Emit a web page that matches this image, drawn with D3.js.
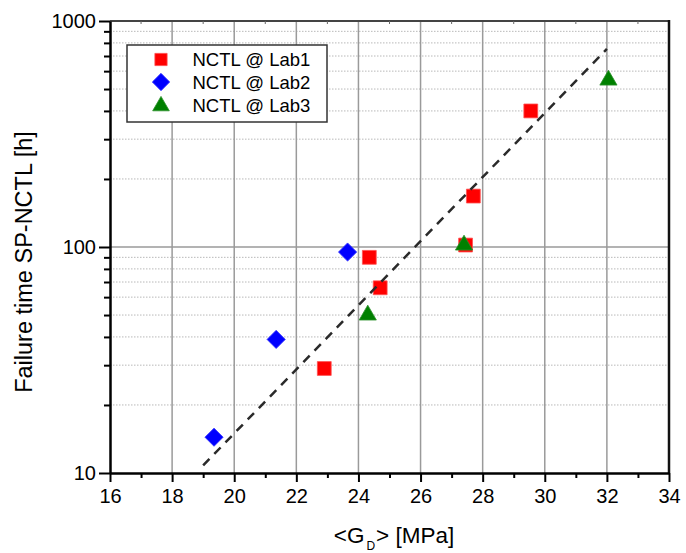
<!DOCTYPE html>
<html>
<head>
<meta charset="utf-8">
<script src="https://cdn.jsdelivr.net/npm/d3@7"></script>
<style>
  html, body { margin: 0; padding: 0; background: #fff; }
  svg { display: block; font-family: "Liberation Sans", Arial, sans-serif; }
</style>
</head>
<body>
<svg id="chart" width="686" height="553"></svg>
<script>
// ---- data ----
const seriesNames = ["NCTL @ Lab1", "NCTL @ Lab2", "NCTL @ Lab3"];
const lab1X = [22.9, 24.35, 24.7, 27.45, 27.7, 29.55];
const lab1Y = [29, 90, 66, 102, 168, 400];
const lab2X = [19.35, 21.35, 23.65];
const lab2Y = [14.4, 39, 95];
const lab3X = [24.3, 27.4, 32.05];
const lab3Y = [50.5, 103, 553];
const fitX = [19.0, 32.0];
const fitY = [10.8, 752];
const xTicks = [16, 18, 20, 22, 24, 26, 28, 30, 32, 34];
const xMinorTicks = [17, 19, 21, 23, 25, 27, 29, 31, 33];
const yTicks = [10, 100, 1000];
const yMinorTicks = [20, 30, 40, 50, 60, 70, 80, 90, 200, 300, 400, 500, 600, 700, 800, 900];

const svg = d3.select("#chart");
const L = 110, R = 669, T = 21, B = 473;
const x = d3.scaleLinear().domain([16, 34]).range([L, R]);
const y = d3.scaleLog().domain([10, 1000]).range([B, T]);

// grid
const grid = svg.append("g");
grid.selectAll("line.hmin").data(yMinorTicks).join("line")
  .attr("x1", L).attr("x2", R).attr("y1", d => y(d)).attr("y2", d => y(d))
  .attr("stroke", "#b8b8b8").attr("stroke-width", 1).attr("stroke-dasharray", "1.5,1.5");
grid.selectAll("line.v").data(xTicks.slice(1, -1)).join("line")
  .attr("x1", d => x(d)).attr("x2", d => x(d)).attr("y1", T).attr("y2", B)
  .attr("stroke", "#9a9a9a").attr("stroke-width", 1.5);
grid.append("line").attr("x1", L).attr("x2", R).attr("y1", y(100)).attr("y2", y(100))
  .attr("stroke", "#9a9a9a").attr("stroke-width", 1.5);

// markers
const pts1 = lab1X.map((v, i) => [v, lab1Y[i]]);
const pts2 = lab2X.map((v, i) => [v, lab2Y[i]]);
const pts3 = lab3X.map((v, i) => [v, lab3Y[i]]);
const sq = d3.symbol().type(d3.symbolSquare).size(192);
const dia = d3.symbol().type(d3.symbolSquare).size(165);
const tri = d3.symbol().type(d3.symbolTriangle).size(128);

const styles = [
  { p: sq, rot: 0, fill: "#ff0000", stroke: "#ff5050", dy: 0 },
  { p: dia, rot: 45, fill: "#0000ff", stroke: "#3030ff", dy: 0 },
  { p: tri, rot: 0, fill: "#008000", stroke: "#2a902a", dy: 1 }
];
[pts1, pts2, pts3].forEach((pts, k) => {
  const s = styles[k];
  svg.append("g").selectAll("path").data(pts).join("path")
    .attr("d", s.p).attr("transform", d => `translate(${x(d[0])},${y(d[1]) + s.dy}) rotate(${s.rot})`)
    .attr("fill", s.fill).attr("stroke", s.stroke).attr("stroke-width", 0.8);
});

// fit line
const fitPts = fitX.map((v, i) => [v, fitY[i]]);
svg.append("path").datum(fitPts)
  .attr("d", d3.line().x(d => x(d[0])).y(d => y(d[1])))
  .attr("fill", "none").attr("stroke", "#2a2a2a").attr("stroke-width", 2.5)
  .attr("stroke-dasharray", "9,7");

// frame
svg.append("line").attr("x1", L).attr("x2", R).attr("y1", T).attr("y2", T)
  .attr("stroke", "#444").attr("stroke-width", 2);
svg.append("line").attr("x1", R).attr("x2", R).attr("y1", T - 1).attr("y2", B)
  .attr("stroke", "#111").attr("stroke-width", 2.5);
svg.append("g").selectAll("line").data(xMinorTicks).join("line")
  .attr("x1", d => x(d)).attr("x2", d => x(d)).attr("y1", T).attr("y2", T + 3)
  .attr("stroke", "#666").attr("stroke-width", 1);

// axes
function styleAxis(g) {
  g.select(".domain").attr("stroke", "#000").attr("stroke-width", 2.5);
  g.selectAll(".tick line").attr("stroke", "#000").attr("stroke-width", 2);
  g.selectAll(".tick text").attr("fill", "#000").attr("font-size", 20)
    .attr("font-family", "'Liberation Sans', Arial, sans-serif");
}
const xMajor = svg.append("g").attr("transform", `translate(0,${B})`)
  .call(d3.axisBottom(x).tickValues(xTicks).tickSize(9).tickSizeOuter(0).tickPadding(7).tickFormat(d3.format("d")));
styleAxis(xMajor);
xMajor.selectAll(".tick text").attr("dy", "0.71em");
const xMinor = svg.append("g").attr("transform", `translate(0,${B})`)
  .call(d3.axisBottom(x).tickValues(xMinorTicks).tickSize(5).tickSizeOuter(0).tickFormat(""));
xMinor.select(".domain").remove();
xMinor.selectAll(".tick line").attr("stroke", "#000").attr("stroke-width", 2);

const yMajor = svg.append("g").attr("transform", `translate(${L},0)`)
  .call(d3.axisLeft(y).tickValues(yTicks).tickSize(11).tickSizeOuter(0).tickPadding(3).tickFormat(d3.format("d")));
styleAxis(yMajor);
const yMinor = svg.append("g").attr("transform", `translate(${L},0)`)
  .call(d3.axisLeft(y).tickValues(yMinorTicks).tickSize(6).tickSizeOuter(0).tickFormat(""));
yMinor.select(".domain").remove();
yMinor.selectAll(".tick line").attr("stroke", "#000").attr("stroke-width", 2);

// axis titles
const xt = svg.append("text").attr("x", 394).attr("y", 543).attr("text-anchor", "middle")
  .attr("font-size", 22.5).attr("fill", "#000");
xt.append("tspan").text("<G");
xt.append("tspan").attr("font-size", 12).attr("dy", 7).attr("dx", 2).text("D");
xt.append("tspan").attr("dy", -7).attr("dx", 1).text("> [MPa]");

svg.append("text").attr("transform", "translate(32,262) rotate(-90)")
  .attr("text-anchor", "middle").attr("font-size", 23.5).attr("fill", "#000")
  .text("Failure time SP-NCTL [h]");

// legend
const lg = svg.append("g");
lg.append("rect").attr("x", 127).attr("y", 45).attr("width", 200).attr("height", 77)
  .attr("fill", "#fff").attr("stroke", "#333").attr("stroke-width", 1.5);
const legSizes = [150, 150, 120];
const rowY = [59.5, 82, 105];
seriesNames.forEach((name, i) => {
  const s = styles[i];
  const sym = d3.symbol().type(i === 2 ? d3.symbolTriangle : d3.symbolSquare).size(legSizes[i]);
  lg.append("path").attr("d", sym())
    .attr("transform", `translate(161,${rowY[i] + s.dy}) rotate(${s.rot})`)
    .attr("fill", s.fill).attr("stroke", s.stroke).attr("stroke-width", 0.8);
  lg.append("text").attr("x", 192.5).attr("y", rowY[i]).attr("dy", "0.36em")
    .attr("font-size", 18.5).attr("fill", "#000").text(name);
});
</script>
</body>
</html>
